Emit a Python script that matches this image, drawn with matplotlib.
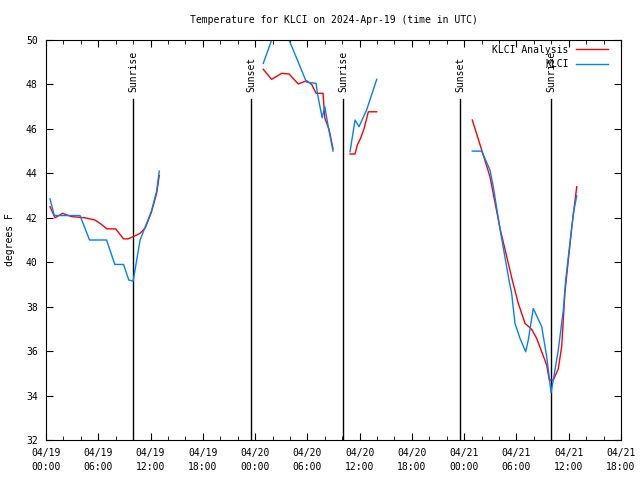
import numpy as np
import matplotlib
matplotlib.use("Agg")
import matplotlib.pyplot as plt

plt.rcParams["font.family"] = ["DejaVu Sans Mono"]
plt.rcParams["font.size"] = 7

nan = np.nan

# hours since 2024-04-19 00:00 UTC, NaN separates gaps
hora_analisis = [0.46, 1.03, 1.9, 2.95, 4.48, 5.6, 6.2, 7.0, 8.0, 8.9, 9.4, 10.0, 10.8, 11.4, 12.1, 12.7, 13.0, nan,
                 24.94, 25.9, 27.05, 27.9, 28.96, 29.9, 30.5, 31.0, 31.8, 32.0, 32.5, 32.95, nan,
                 34.9, 35.47, 35.73, 36.1, 36.5, 37.0, 37.96, nan,
                 48.93, 50.01, 50.96, 52.11, 53.52, 54.21, 54.98, 55.75, 56.32, 56.9, 57.47, 57.77, 58.23,
                 58.8, 59.19, 59.57, 60.34, 60.92]
temp_analisis = [42.5, 42.0, 42.2, 42.05, 42.0, 41.9, 41.75, 41.5, 41.5, 41.05, 41.05, 41.15, 41.3, 41.55, 42.25, 43.1, 43.9, nan,
                 48.68, 48.23, 48.5, 48.47, 48.02, 48.17, 48.0, 47.6, 47.6, 46.5, 45.95, 45.1, nan,
                 44.87, 44.87, 45.27, 45.57, 46.0, 46.77, 46.77, nan,
                 46.4, 45.05, 43.85, 41.53, 39.2, 38.15, 37.25, 36.98, 36.57, 35.97, 35.37, 34.7, 34.7,
                 35.2, 36.2, 38.67, 41.53, 43.4]

hora_obs = [0.46, 0.95, 3.9, 5.0, 6.95, 7.9, 8.9, 9.5, 10.0, 10.8, 11.4, 12.1, 12.7, 13.0, nan,
            24.94, 25.9, 26.8, 27.9, 28.96, 29.9, 31.0, 31.15, 31.7, 32.0, 32.4, 32.95, nan,
            34.9, 35.47, 35.93, 36.8, 37.96, nan,
            48.93, 50.01, 50.96, 51.34, 52.11, 53.14, 53.45, 53.83, 54.41, 55.06, 55.36, 55.93, 56.9,
            57.47, 57.97, 58.23, 58.8, 59.38, 59.65, 60.53, 60.92]
temp_obs = [42.85, 42.1, 42.1, 41.0, 41.0, 39.9, 39.9, 39.2, 39.15, 41.0, 41.6, 42.3, 43.2, 44.1, nan,
            48.95, 50.0, 50.4, 50.0, 49.0, 48.1, 48.05, 47.6, 46.5, 47.0, 46.1, 45.0, nan,
            44.97, 46.4, 46.1, 46.85, 48.23, nan,
            45.0, 45.0, 44.15, 43.4, 41.5, 39.2, 38.6, 37.25, 36.57, 35.97, 36.5, 37.92, 37.1,
            35.75, 34.13, 34.7, 36.05, 37.85, 39.2, 42.2, 43.0]

salida_sol = [10.0, 34.09, 57.97]
puesta_sol = [23.53, 47.52]

ticks_x = [0, 6, 12, 18, 24, 30, 36, 42, 48, 54, 60, 66]
etiquetas_x = ["04/19\n00:00", "04/19\n06:00", "04/19\n12:00", "04/19\n18:00",
               "04/20\n00:00", "04/20\n06:00", "04/20\n12:00", "04/20\n18:00",
               "04/21\n00:00", "04/21\n06:00", "04/21\n12:00", "04/21\n18:00"]

fig = plt.figure(figsize=(6.4, 4.8), dpi=100)
ax = fig.add_axes([46 / 640, 40 / 480, 575 / 640, 400 / 480])

# Sunrise / sunset markers
for h, nombre in [(h, "Sunrise") for h in salida_sol] + [(h, "Sunset") for h in puesta_sol]:
    ax.plot([h, h], [32, 47.35], color="black", linewidth=1)
    ax.text(h, 47.65, nombre, rotation=90, ha="center", va="bottom", fontsize=7)

ax.plot(hora_analisis, temp_analisis, color="#ff0000", linewidth=1, label="KLCI Analysis")
ax.plot(hora_obs, temp_obs, color="#0080ff", linewidth=1, label="KLCI")

ax.set_xlim(0, 66)
ax.set_ylim(32, 50)
ax.set_xticks(ticks_x)
ax.set_xticklabels(etiquetas_x, linespacing=1.5)
ax.set_xticks(np.arange(0, 67, 2), minor=True)
ax.set_yticks(np.arange(32, 51, 2))
ax.tick_params(which="both", direction="in", top=True, right=True)
ax.tick_params(which="major", length=5, pad=6)
ax.tick_params(which="minor", length=3)

ax.set_title("Temperature for KLCI on 2024-Apr-19 (time in UTC)", fontsize=7, pad=12)
ax.set_ylabel("degrees F", fontsize=7, labelpad=8)

ax.legend(loc="upper right", frameon=False, markerfirst=False, fontsize=7,
          handlelength=3.2, labelspacing=0.45, borderaxespad=0.1, handletextpad=0.8,
          bbox_to_anchor=(0.985, 1.0))

plt.savefig("out.png", dpi=100)
plt.close()
